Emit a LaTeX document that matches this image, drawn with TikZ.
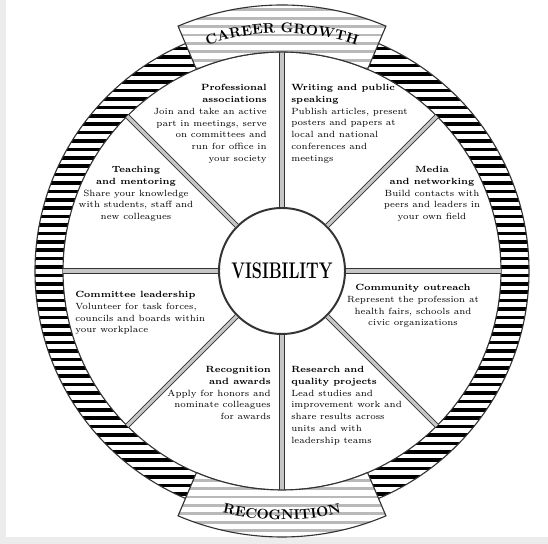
\documentclass[tikz,border=0pt]{standalone}
\usepackage{tikz}
\usetikzlibrary{decorations.text}

\begin{document}
\begin{tikzpicture}[font=\small,
    spoke/.style={double=gray!45, double distance=2.4pt, line width=0.6pt, draw=gray!40!black},
    segtext/.style={font=\fontsize{6.4}{8.4}\selectfont, inner sep=0pt},
    bannerbox/.style={draw=gray!40!black, line width=0.8pt},
    bannertext/.style={decorate, decoration={text along path, text align=center,
        text={|\bfseries\fontsize{10}{11}\selectfont|#1}}}]
	\useasboundingbox (0,0) rectangle (13.7,13.6);
	\fill[gray!15] (0,0) rectangle (0.15,13.6);
	\fill[gray!15] (0,0) rectangle (13.7,0.18);
	\begin{scope}[shift={(7.05,6.825)}]
		\begin{scope}[even odd rule]
			\clip (0,0) circle (6.175) (0,0) circle (5.475);
			\foreach \y in {-6.2,-5.99,...,6.3}
				\draw[line width=0.09cm] (-6.3,\y) -- (6.3,\y);
		\end{scope}
		\draw[gray!40!black, line width=0.8pt] (0,0) circle (6.175);
		\draw[gray!40!black, line width=0.8pt] (0,0) circle (5.475);
		\node[circle, draw=gray!40!black, line width=1.4pt, fill=white, minimum size=3.15cm, inner sep=0pt,
			font=\fontsize{11.5}{12}\selectfont] (hub) at (0,0) {\scalebox{1}[1.4]{\textbf{VISIBILITY}}};
		\foreach \a in {0,45,...,315}{
			\coordinate (r\a) at (\a:5.475);
			\draw[spoke] (hub.\a) -- (r\a);
		}
		\foreach \s in {67,247}{
			\fill[white] (\s:5.475) arc[start angle=\s, end angle=\s+46, radius=5.475]
				-- (\s+46:6.65) arc[start angle=\s+46, end angle=\s, radius=6.65] -- cycle;
			\begin{scope}
				\clip (\s:5.475) arc[start angle=\s, end angle=\s+46, radius=5.475]
					-- (\s+46:6.65) arc[start angle=\s+46, end angle=\s, radius=6.65] -- cycle;
				\foreach \y in {-6.7,-6.49,...,6.8}
					\draw[gray!55, line width=0.07cm] (-3,\y) -- (3,\y);
			\end{scope}
			\draw[bannerbox] (\s:5.475) arc[start angle=\s, end angle=\s+46, radius=5.475]
				-- (\s+46:6.65) arc[start angle=\s+46, end angle=\s, radius=6.65] -- cycle;
		}
		\path[bannertext={CAREER GROWTH}] (111:5.95) arc[start angle=111, end angle=69, radius=5.95];
		\path[bannertext={RECOGNITION}] (249:6.22) arc[start angle=249, end angle=291, radius=6.22];
		\node[segtext, anchor=north east, align=right] (assoc) at (-0.375,4.675)
			{\textbf{Professional}\\ \textbf{associations}\\ Join and take an active\\ part in meetings, serve\\ on committees and\\ run for office in\\ your society};
		\node[segtext, anchor=north west, align=left] (writing) at (0.225,4.675)
			{\textbf{Writing and public}\\ \textbf{speaking}\\ Publish articles, present\\ posters and papers at\\ local and national\\ conferences and\\ meetings};
		\node[segtext, anchor=north, align=center] (media) at (3.75,2.625)
			{\textbf{Media}\\ \textbf{and networking}\\ Build contacts with\\ peers and leaders in\\ your own field};
		\node[segtext, anchor=north, align=center] (teaching) at (-3.65,2.625)
			{\textbf{Teaching}\\ \textbf{and mentoring}\\ Share your knowledge\\ with students, staff and\\ new colleagues};
		\node[segtext, anchor=north west, align=left] (leader) at (-5.175,-0.5)
			{\textbf{Committee leadership}\\ Volunteer for task forces,\\ councils and boards within\\ your workplace};
		\node[segtext, anchor=north, align=center] (outreach) at (3.275,-0.325)
			{\textbf{Community outreach}\\ Represent the profession at\\ health fairs, schools and\\ civic organizations};
		\node[segtext, anchor=north east, align=right] (awards) at (-0.275,-2.375)
			{\textbf{Recognition}\\ \textbf{and awards}\\ Apply for honors and\\ nominate colleagues\\ for awards};
		\node[segtext, anchor=north west, align=left] (research) at (0.225,-2.375)
			{\textbf{Research and}\\ \textbf{quality projects}\\ Lead studies and\\ improvement work and\\ share results across\\ units and with\\ leadership teams};
	\end{scope}
\end{tikzpicture}
\end{document}
